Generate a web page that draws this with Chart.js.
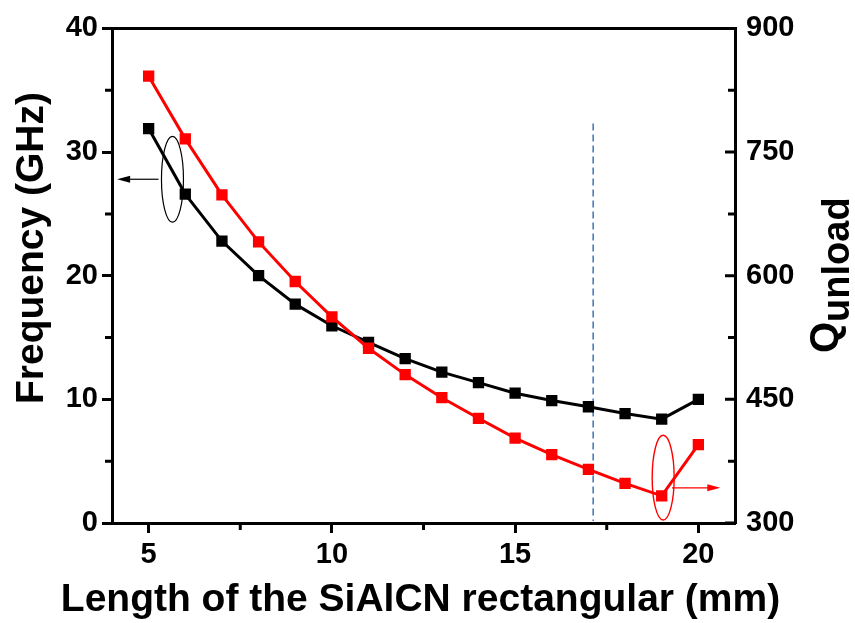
<!DOCTYPE html>
<html lang="en">
<head>
<meta charset="utf-8">
<title>SiAlCN rectangular resonator</title>
<script src="https://cdn.jsdelivr.net/npm/chart.js"></script>
<style>
  html, body { margin: 0; padding: 0; background: #fff; }
  .chart-container { width: 855px; height: 623px; position: relative; }
</style>
</head>
<body>
<div class="chart-container"><canvas id="myChart"></canvas></div>
<script>
// values
const lengths   = [5, 6, 7, 8, 9, 10, 11, 12, 13, 14, 15, 16, 17, 18, 19, 20];
const frequency = [31.9, 26.6, 22.8, 20.0, 17.7, 15.95, 14.6, 13.3, 12.2, 11.35, 10.5, 9.9, 9.4, 8.85, 8.4, 10.0];
const qUnload   = [842, 766, 698, 641, 593, 550, 512, 480, 452, 427, 403, 383, 365, 348, 333, 395];

const xTicks = [5, 10, 15, 20];
const xMinorTicks = [7.5, 12.5, 17.5];
const freqTicks = [0, 10, 20, 30, 40];
const freqMinorTicks = [5, 15, 25, 35];
const qTicks = [300, 450, 600, 750, 900];
const qMinorTicks = [375, 525, 675, 825];

const xTitle = 'Length of the SiAlCN rectangular (mm)';
const yTitle = 'Frequency (GHz)';

// annotations, in data units
const markerLength = 17.13, markerTop = 32.3;
const freqEllipse = { x: 5.65, y: 27.8, rx: 0.3, ry: 3.47 };
const freqArrow = { from: 5.27, to: 4.14, y: 27.8 };
const qEllipse = { x: 19.04, y: 355, rx: 0.3, ry: 51.4 };
const qArrow = { from: 19.28, to: 20.6, y: 342.7 };

const FONT = '"Liberation Sans", Arial, sans-serif';

function arrow(ctx, x1, y, x2, color) {
  const dir = Math.sign(x2 - x1);
  ctx.strokeStyle = color; ctx.fillStyle = color; ctx.lineWidth = 1.2;
  ctx.beginPath(); ctx.moveTo(x1, y); ctx.lineTo(x2 - dir * 10, y); ctx.stroke();
  ctx.beginPath();
  ctx.moveTo(x2, y);
  ctx.lineTo(x2 - dir * 13, y - 3.5);
  ctx.lineTo(x2 - dir * 13, y + 3.5);
  ctx.closePath(); ctx.fill();
}

function ellipse(ctx, xs, ys, e, color, w) {
  const cx = xs.getPixelForValue(e.x), cy = ys.getPixelForValue(e.y);
  const rx = Math.abs(xs.getPixelForValue(e.x + e.rx) - cx);
  const ry = Math.abs(ys.getPixelForValue(e.y + e.ry) - cy);
  ctx.strokeStyle = color; ctx.lineWidth = w;
  ctx.beginPath(); ctx.ellipse(cx, cy, rx, ry, 0, 0, Math.PI * 2); ctx.stroke();
}

const decorations = {
  id: 'decorations',
  beforeDatasetsDraw(chart) {
    const { ctx, scales: { x, y } } = chart;
    ctx.save();
    ctx.strokeStyle = '#4a7ebb'; ctx.lineWidth = 1.6; ctx.setLineDash([7, 4]);
    const px = x.getPixelForValue(markerLength);
    ctx.beginPath();
    ctx.moveTo(px, y.getPixelForValue(markerTop));
    ctx.lineTo(px, y.getPixelForValue(0) - 2);
    ctx.stroke();
    ctx.restore();
  },
  afterDatasetsDraw(chart) {
    const { ctx, scales: { x, y, y1 } } = chart;
    ctx.save();
    ellipse(ctx, x, y, freqEllipse, '#000', 1.2);
    arrow(ctx, x.getPixelForValue(freqArrow.from), y.getPixelForValue(freqArrow.y), x.getPixelForValue(freqArrow.to), '#000');
    ellipse(ctx, x, y1, qEllipse, '#ff0000', 1.4);
    arrow(ctx, x.getPixelForValue(qArrow.from), y1.getPixelForValue(qArrow.y), x.getPixelForValue(qArrow.to), '#ff0000');
    ctx.restore();
  },
  afterDraw(chart) {
    const { ctx, chartArea: a, scales: { x, y, y1 } } = chart;
    ctx.save();
    ctx.strokeStyle = '#000'; ctx.lineWidth = 3;
    // top frame line
    ctx.beginPath(); ctx.moveTo(a.left - 1.5, a.top); ctx.lineTo(a.right + 1.5, a.top); ctx.stroke();
    // minor ticks
    ctx.beginPath();
    xMinorTicks.forEach(v => { const p = x.getPixelForValue(v); ctx.moveTo(p, a.bottom); ctx.lineTo(p, a.bottom + 7); });
    freqMinorTicks.forEach(v => { const p = y.getPixelForValue(v); ctx.moveTo(a.left, p); ctx.lineTo(a.left - 7, p); });
    // right axis ticks point inward
    qTicks.forEach(v => { const p = y1.getPixelForValue(v); ctx.moveTo(a.right, p); ctx.lineTo(a.right - 10, p); });
    qMinorTicks.forEach(v => { const p = y1.getPixelForValue(v); ctx.moveTo(a.right, p); ctx.lineTo(a.right - 7, p); });
    ctx.stroke();

    ctx.fillStyle = '#000';
    ctx.textBaseline = 'alphabetic';
    // axis titles drawn here so they are not squeezed or forced to the centre
    ctx.font = 'bold 39px ' + FONT;
    ctx.textAlign = 'center';
    ctx.fillText(xTitle, (a.left + a.right) / 2 - 3, 611);

    ctx.save();
    ctx.translate(43, 248);
    ctx.rotate(-Math.PI / 2);
    ctx.fillText(yTitle, 0, 0);
    ctx.restore();

    // right axis title with subscript
    ctx.translate(838, 353);
    ctx.rotate(-Math.PI / 2);
    ctx.textAlign = 'left';
    ctx.font = 'bold 40px ' + FONT;
    ctx.fillText('Q', 0, 0);
    const qw = ctx.measureText('Q').width;
    ctx.font = 'bold 38px ' + FONT;
    ctx.fillText('unload', qw, 11);
    ctx.restore();
  }
};

const setTicks = vals => scale => { scale.ticks = vals.map(v => ({ value: v })); };
const tickFont = { family: FONT, size: 29, weight: 'bold' };

const ctx = document.getElementById('myChart').getContext('2d');
new Chart(ctx, {
  type: 'line',
  data: {
    datasets: [{
      label: 'Frequency',
      data: lengths.map((l, i) => ({ x: l, y: frequency[i] })),
      yAxisID: 'y',
      borderColor: '#000', backgroundColor: '#000',
      borderWidth: 3, tension: 0, order: 1,
      pointStyle: 'rect', pointRadius: 8, pointBorderWidth: 0,
      pointBackgroundColor: '#000'
    }, {
      label: 'Qunload',
      data: lengths.map((l, i) => ({ x: l, y: qUnload[i] })),
      yAxisID: 'y1',
      borderColor: '#ff0000', backgroundColor: '#ff0000',
      borderWidth: 3, tension: 0, order: 0,
      pointStyle: 'rect', pointRadius: 8, pointBorderWidth: 0,
      pointBackgroundColor: '#ff0000'
    }]
  },
  options: {
    responsive: true,
    maintainAspectRatio: false,
    animation: false,
    layout: { padding: { top: 27, left: 0, right: 0, bottom: 0 } },
    plugins: { legend: { display: false }, tooltip: { enabled: false } },
    scales: {
      x: {
        type: 'linear', min: 4, max: 21,
        afterBuildTicks: setTicks(xTicks),
        afterFit: s => { s.height = 100; },
        grid: { drawOnChartArea: false, tickLength: 10, tickWidth: 3, tickColor: '#000' },
        border: { display: true, width: 3, color: '#000' },
        ticks: { autoSkip: false, maxRotation: 0, padding: 5, color: '#000', font: tickFont },
        title: { display: false }
      },
      y: {
        position: 'left', min: 0, max: 40,
        afterBuildTicks: setTicks(freqTicks),
        afterFit: s => { s.width = 112; },
        grid: { drawOnChartArea: false, tickLength: 10, tickWidth: 3, tickColor: '#000' },
        border: { display: true, width: 3, color: '#000' },
        ticks: { autoSkip: false, padding: 4, color: '#000', font: tickFont },
        title: { display: false }
      },
      y1: {
        position: 'right', min: 300, max: 900,
        afterBuildTicks: setTicks(qTicks),
        afterFit: s => { s.width = 120; },
        grid: { drawOnChartArea: false, drawTicks: false },
        border: { display: true, width: 3, color: '#000' },
        ticks: { autoSkip: false, padding: 11, color: '#000', font: tickFont }
      }
    }
  },
  plugins: [decorations]
});
</script>
</body>
</html>
